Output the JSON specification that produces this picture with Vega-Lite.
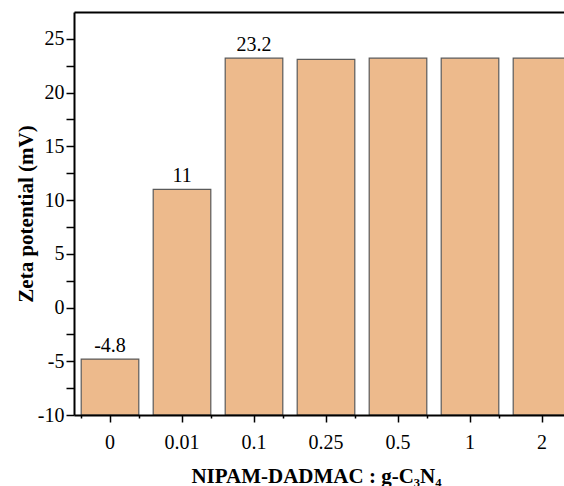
{
  "$schema": "https://vega.github.io/schema/vega-lite/v6.json",
  "autosize": "none",
  "padding": {"left": 74, "top": 12, "right": 0, "bottom": 71},
  "width": 490,
  "height": 403,
  "background": "white",
  "config": {
    "view": {"stroke": null},
    "font": "Liberation Serif",
    "axis": {
      "labelFont": "Liberation Serif",
      "titleFont": "Liberation Serif",
      "labelColor": "black",
      "titleColor": "black",
      "domainColor": "black",
      "tickColor": "black",
      "grid": false
    }
  },
  "data": {
    "values": [
      {"ratio": "0", "zeta": -4.8, "label": "-4.8"},
      {"ratio": "0.01", "zeta": 11, "label": "11"},
      {"ratio": "0.1", "zeta": 23.2, "label": "23.2"},
      {"ratio": "0.25", "zeta": 23.1},
      {"ratio": "0.5", "zeta": 23.2},
      {"ratio": "1", "zeta": 23.2},
      {"ratio": "2", "zeta": 23.2}
    ]
  },
  "encoding": {
    "y": {
      "field": "zeta", "type": "quantitative",
      "scale": {"domain": [-10, 27.5], "nice": false, "zero": false},
      "axis": {
        "values": [-10, -7.5, -5, -2.5, 0, 2.5, 5, 7.5, 10, 12.5, 15, 17.5, 20, 22.5, 25],
        "labelExpr": "datum.value % 5 === 0 ? '' + datum.value : ''",
        "ticks": true,
        "tickColor": "black",
        "tickSize": 8,
        "tickWidth": 1.5,
        "labelFontSize": 20,
        "labelPadding": 2,
        "domainWidth": 2,
        "title": "Zeta potential (mV)",
        "titleFontSize": 21,
        "titleFontWeight": "bold",
        "titleAngle": -90,
        "titleX": -48,
        "titleAlign": "center",
        "titleBaseline": "middle",
        "zindex": 1,
        "encode": {"ticks": {"update": {"x2": {"signal": "datum.value % 5 === 0 ? 8 : 4"}}}}
      }
    }
  },
  "resolve": {"axis": {"x": "independent"}},
  "layer": [
    {
      "mark": {"type": "bar", "fill": "#EDBA8C", "stroke": "#5a5a5a", "strokeWidth": 1.2},
      "encoding": {
        "x": {
          "field": "ratio", "type": "nominal", "sort": null,
          "scale": {"range": [0, 504], "paddingInner": 0.2, "paddingOuter": 0.1},
          "axis": {
            "orient": "bottom",
            "title": "NIPAM-DADMAC : g-C₃N₄",
            "labelAngle": 0,
            "labelFontSize": 20,
            "labelPadding": 10,
            "ticks": true,
            "tickColor": "black",
            "tickSize": 7,
            "tickWidth": 1.5,
            "domainWidth": 2,
            "titleFontSize": 21,
            "titleFontWeight": "bold",
            "titleX": 242,
            "titleY": 50,
            "titleBaseline": "top",
            "zindex": 1,
            "encode": {"ticks": {"update": {"y2": {"value": -7}}}}
          }
        },
        "y2": {"datum": -10}
      }
    },
    {
      "transform": [{"filter": "isValid(datum.label)"}],
      "mark": {"type": "text", "baseline": "bottom", "dy": -3, "fontSize": 20, "font": "Liberation Serif", "color": "black"},
      "encoding": {
        "x": {
          "field": "ratio", "type": "nominal", "sort": null,
          "scale": {"range": [0, 504], "paddingInner": 0.2, "paddingOuter": 0.1},
          "axis": {"orient": "bottom", "labels": false, "ticks": false, "domain": false, "title": null}
        },
        "text": {"field": "label"}
      }
    },
    {
      "mark": {"type": "rule", "opacity": 0},
      "encoding": {
        "x": {
          "field": "ratio", "type": "nominal", "sort": null,
          "scale": {"range": [0, 504], "paddingInner": 0.2, "paddingOuter": 0.1},
          "axis": {"orient": "bottom", "tickBand": "extent", "labels": false, "domain": false, "title": null, "ticks": true, "tickColor": "black", "tickSize": 3, "tickWidth": 1.5, "zindex": 1,
            "encode": {"ticks": {"update": {"y2": {"value": -4}}}}}
        }
      }
    },
    {
      "mark": {"type": "rule", "opacity": 0},
      "encoding": {
        "x": {
          "field": "ratio", "type": "nominal", "sort": null,
          "scale": {"range": [0, 504], "paddingInner": 0.2, "paddingOuter": 0.1},
          "axis": {"orient": "top", "labels": false, "ticks": false, "domain": true, "domainWidth": 2, "title": null, "zindex": 1}
        }
      }
    }
  ]
}
